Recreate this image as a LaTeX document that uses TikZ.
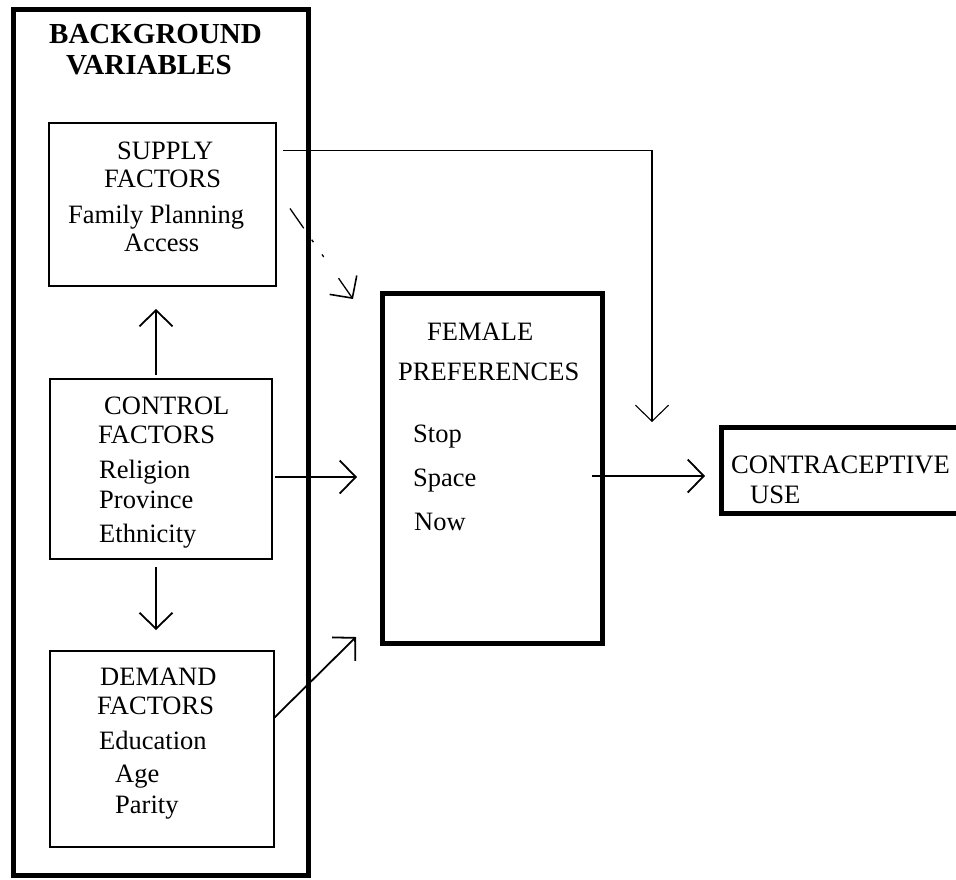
\documentclass[tikz,border=0pt]{standalone}
\usepackage{fontspec}
\setmainfont{Liberation Serif}
\usetikzlibrary{arrows.meta,calc}
\begin{document}
\begin{tikzpicture}[x=1pt,y=-1pt,
  box/.style={draw, line width=#1, inner sep=0pt, outer sep=0pt},
  txt/.style={anchor=base west, inner sep=0pt, font=\fontsize{26.5}{30}\selectfont},
  btxt/.style={anchor=base west, inner sep=0pt, font=\fontsize{29}{32}\selectfont\bfseries},
  arr/.style={line width=1.8pt, -{Straight Barb[length=16pt,width=33pt]}},
  thinarr/.style={line width=1.1pt, -{Straight Barb[length=16pt,width=33pt]}},
  dashline/.style={line width=1.3pt, dash pattern=on 24pt off 14pt on 3pt off 15pt on 3pt off 200pt},
  dashend/.style={line width=1.3pt, -{Straight Barb[length=16pt,width=33pt,line width=1.6pt]}}
]
\useasboundingbox (0,0) rectangle (956,879);
% boxes
\node[box=5pt, minimum width=294.5pt, minimum height=866pt] (outer) at (160.75,442) {};
\node[box=2pt, minimum width=227.5pt, minimum height=163pt] (supply) at (162.25,204.5) {};
\node[box=2pt, minimum width=222pt, minimum height=180pt] (control) at (161,469) {};
\node[box=2pt, minimum width=224pt, minimum height=196pt] (demand) at (162,749) {};
\node[box=5pt, minimum width=220pt, minimum height=350pt] (female) at (492,468) {};
\node[box=5pt, minimum width=241pt, minimum height=86pt] (contra) at (841.5,470) {};
% texts
\node[btxt] (t1) at (49,43) {BACKGROUND};
\node[btxt] (t2) at (66,74) {VARIABLES};
\node[txt] (s1) at (117,159) {SUPPLY};
\node[txt] (s2) at (104,187) {FACTORS};
\node[txt] (s3) at (68,223) {Family Planning};
\node[txt] (s4) at (124,251) {Access};
\node[txt] (c1) at (104,414) {CONTROL};
\node[txt] (c2) at (98,443) {FACTORS};
\node[txt] (c3) at (99,478) {Religion};
\node[txt] (c4) at (99,508) {Province};
\node[txt] (c5) at (99,542) {Ethnicity};
\node[txt] (d1) at (100,685) {DEMAND};
\node[txt] (d2) at (97,714) {FACTORS};
\node[txt] (d3) at (99,749) {Education};
\node[txt] (d4) at (115,782) {Age};
\node[txt] (d5) at (115,813) {Parity};
\node[txt] (f1) at (427,340) {FEMALE};
\node[txt] (f2) at (398,380) {PREFERENCES};
\node[txt] (f3) at (413,442) {Stop};
\node[txt] (f4) at (413,486) {Space};
\node[txt] (f5) at (414,530) {Now};
\node[txt, font=\fontsize{26.6}{30}\selectfont] (u1) at (731,473) {CONTRACEPTIVE};
\node[txt, font=\fontsize{26.6}{30}\selectfont] (u2) at (750,503) {USE};
% connectors
\draw[arr, shorten <=4pt, shorten >=23pt] ([xshift=-5pt]control.north) -- ([xshift=-5pt]control.north |- supply.south);
\draw[arr, shorten <=8pt, shorten >=21pt] ([xshift=-5pt]control.south) -- ([xshift=-5pt]control.south |- demand.north);
\coordinate (ce) at ([yshift=-8pt]control.east);
\draw[arr, shorten <=3pt, shorten >=25pt] (ce) -- (ce -| female.west);
\draw[arr] ([yshift=31pt]demand.east) -- ([xshift=-26pt,yshift=6pt]female.south west);
\coordinate (fe) at ([xshift=-10pt,yshift=-8pt]female.east);
\draw[arr, shorten >=16pt] (fe) -- (fe -| contra.west);
\coordinate (cuse) at (652,422);
\draw[thinarr] ([xshift=7pt,yshift=54pt]supply.east) -| (cuse);
\coordinate (da) at ([xshift=14pt,yshift=-4pt]supply.east);
\coordinate (db) at ([xshift=-29pt,yshift=-6pt]female.north west);
\draw[dashline] (da) -- ($(da)!0.75!(db)$);
\draw[dashend] ($(da)!0.77!(db)$) -- (db);
\end{tikzpicture}
\end{document}
